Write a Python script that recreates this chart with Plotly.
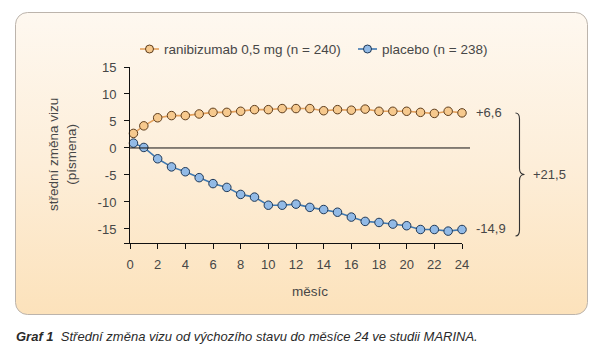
import base64
import plotly.graph_objects as go

# ---- data ----
months = [0.25, 1, 2, 3, 4, 5, 6, 7, 8, 9, 10, 11, 12, 13, 14, 15, 16, 17, 18, 19, 20, 21, 22, 23, 24]
ranibizumab = [2.7, 4.1, 5.6, 6.0, 6.0, 6.3, 6.6, 6.6, 6.8, 7.1, 7.1, 7.3, 7.3, 7.3, 6.9, 7.1, 7.0, 7.2,
               6.8, 6.8, 6.8, 6.6, 6.4, 6.8, 6.5]
placebo = [0.9, 0.1, -2.0, -3.5, -4.4, -5.5, -6.6, -7.3, -8.6, -9.1, -10.6, -10.6, -10.4, -11.0, -11.4,
           -11.9, -12.8, -13.6, -13.8, -14.1, -14.4, -15.1, -15.1, -15.4, -15.1]
series_names = ["ranibizumab 0,5 mg (n = 240)", "placebo (n = 238)"]
x_ticks = [0, 2, 4, 6, 8, 10, 12, 14, 16, 18, 20, 22, 24]
y_ticks = [-15, -10, -5, 0, 5, 10, 15]
end_labels = ["+6,6", "-14,9"]
end_values = [6.6, -14.9]
diff_label = "+21,5"
x_title = "měsíc"
y_title = "střední změna vizu<br>(písmena)"
caption_bold = "Graf 1"
caption_text = "Střední změna vizu od výchozího stavu do měsíce 24 ve studii MARINA."

# ---- styles ----
line_colors = ["#e3a05c", "#3f78b0"]
marker_fills = ["#f6c98e", "#92bae6"]
marker_edges = ["#5e3d1c", "#1f3856"]

# ---- layout geometry ----
# the page body has an 8px margin, so the figure is drawn 8px in from the window edge
OFF = 8
W, H = 600 - OFF, 355 - OFF
# plot area in window pixels: x 130..462, y 67..243
ML, MT = 130 - OFF, 67 - OFF
MR = W - (462 - OFF)
MB = H - (243 - OFF)
XR = [0, 24]
YR = [-17.6, 15]
PW = W - ML - MR
PH = H - MT - MB

def px_x(p):  # window pixel -> paper
    return (p - OFF - ML) / PW

def px_y(p):
    return (H - MB - (p - OFF)) / PH

TXT = "#474747"
FONT = "Liberation Sans, Arial, sans-serif"

svg = (
    f"<svg xmlns='http://www.w3.org/2000/svg' width='{W}' height='{H}'>"
    "<defs><linearGradient id='g' x1='0' y1='0' x2='0' y2='1'>"
    "<stop offset='0' stop-color='#fef8f0'/><stop offset='0.5' stop-color='#fdeed9'/>"
    "<stop offset='1' stop-color='#fce2bb'/></linearGradient></defs>"
    f"<rect x='{15.5 - OFF}' y='{12.5 - OFF}' width='572' height='302' rx='12' ry='12' fill='url(#g)' "
    "stroke='#bcb4ac' stroke-width='1'/></svg>"
)
svg_uri = "data:image/svg+xml;base64," + base64.b64encode(svg.encode()).decode()

fig = go.Figure()
for name, vals, lc, mf, me in zip(series_names, [ranibizumab, placebo], line_colors, marker_fills, marker_edges):
    fig.add_trace(go.Scatter(
        x=months, y=vals, name=name, mode="lines+markers",
        line=dict(color=lc, width=1.6),
        marker=dict(symbol="circle", size=8.5, color=mf, line=dict(color=me, width=1)),
        cliponaxis=False, showlegend=False,
    ))

y_tickvals = [YR[0]] + y_ticks
y_ticktext = [""] + [str(v) for v in y_ticks]

fig.update_layout(
    width=W, height=H,
    margin=dict(l=ML, r=MR, t=MT, b=MB, pad=0, autoexpand=False),
    paper_bgcolor="white", plot_bgcolor="rgba(0,0,0,0)",
    font=dict(family=FONT, size=13, color=TXT),
    showlegend=False,
    xaxis=dict(range=XR, tickvals=x_ticks, showgrid=False, zeroline=False, showline=True,
               linecolor="#111111", linewidth=1, ticks="outside", ticklen=5, tickcolor="#111111",
               tickfont=dict(size=13, color=TXT), ticklabelstandoff=4, fixedrange=True),
    yaxis=dict(range=YR, tickvals=y_tickvals, ticktext=y_ticktext, showgrid=False, zeroline=False,
               showline=True, linecolor="#111111", linewidth=1, ticks="outside", ticklen=5,
               tickcolor="#111111", tickfont=dict(size=13, color=TXT), ticklabelstandoff=5,
               fixedrange=True),
    images=[dict(source=svg_uri, xref="paper", yref="paper", x=-ML / PW, y=(H - MB) / PH,
                 sizex=W / PW, sizey=H / PH, xanchor="left", yanchor="top",
                 sizing="stretch", layer="below")],
)

# zero line extending slightly past the last month
y0_paper = (0 - YR[0]) / (YR[1] - YR[0])
fig.add_shape(type="line", xref="paper", yref="paper", x0=0, x1=px_x(470), y0=y0_paper, y1=y0_paper,
              line=dict(color="#111111", width=1))

# manual legend
leg_y = 49
leg_items = [(140, series_names[0]), (358, series_names[1])]
for (lx, name), lc, mf, me in zip(leg_items, line_colors, marker_fills, marker_edges):
    fig.add_shape(type="line", xref="paper", yref="paper", x0=px_x(lx), x1=px_x(lx + 19),
                  y0=px_y(leg_y), y1=px_y(leg_y), line=dict(color=lc, width=1.6))
    cx = lx + 9.5
    fig.add_shape(type="circle", xref="paper", yref="paper", x0=px_x(cx - 4), x1=px_x(cx + 4),
                  y0=px_y(leg_y + 4), y1=px_y(leg_y - 4), fillcolor=mf, line=dict(color=me, width=1))
    fig.add_annotation(text=name, xref="paper", yref="paper", x=px_x(lx + 23), y=px_y(leg_y),
                       xanchor="left", yanchor="middle", showarrow=False,
                       font=dict(size=13.5, color=TXT), borderpad=0)

# brace
bx, by0, by1 = 519.5, 113, 236
bm = (by0 + by1) / 2
path_pts = [
    ("M", [(bx - 4, by0)]),
    ("Q", [(bx, by0), (bx, by0 + 6)]),
    ("L", [(bx, bm - 6)]),
    ("Q", [(bx, bm), (bx + 5, bm)]),
    ("Q", [(bx, bm), (bx, bm + 6)]),
    ("L", [(bx, by1 - 6)]),
    ("Q", [(bx, by1), (bx - 4, by1)]),
]
path = ""
for cmd, pts in path_pts:
    path += cmd + " " + " ".join(f"{px_x(a):.5f},{px_y(b):.5f}" for a, b in pts) + " "
fig.add_shape(type="path", xref="paper", yref="paper", path=path.strip(),
              line=dict(color="#333333", width=1.1))

# end labels
for lab, val in zip(end_labels, end_values):
    fig.add_annotation(text=lab, xref="paper", yref="y", x=px_x(475), y=val, xanchor="left",
                       yanchor="middle", showarrow=False, font=dict(size=13, color=TXT), borderpad=0)
fig.add_annotation(text=diff_label, xref="paper", yref="paper", x=px_x(532), y=px_y(bm),
                   xanchor="left", yanchor="middle", showarrow=False, font=dict(size=13, color=TXT),
                   borderpad=0)

# axis titles
fig.add_annotation(text=y_title, xref="paper", yref="paper", x=px_x(62), y=px_y(155), textangle=-90,
                   xanchor="center", yanchor="middle", showarrow=False,
                   font=dict(size=13.5, color=TXT), align="center")
fig.add_annotation(text=x_title, xref="paper", yref="paper", x=px_x(310), y=px_y(291),
                   xanchor="center", yanchor="middle", showarrow=False,
                   font=dict(size=13.5, color=TXT))

# caption
fig.add_annotation(text=f"<b><i>{caption_bold}</i></b>  <i>{caption_text}</i>", xref="paper", yref="paper",
                   x=px_x(15), y=px_y(336), xanchor="left", yanchor="middle", showarrow=False,
                   font=dict(size=13, color="#2a2a2a"), borderpad=0)

fig.write_html("out.html", config=dict(displayModeBar=False))
